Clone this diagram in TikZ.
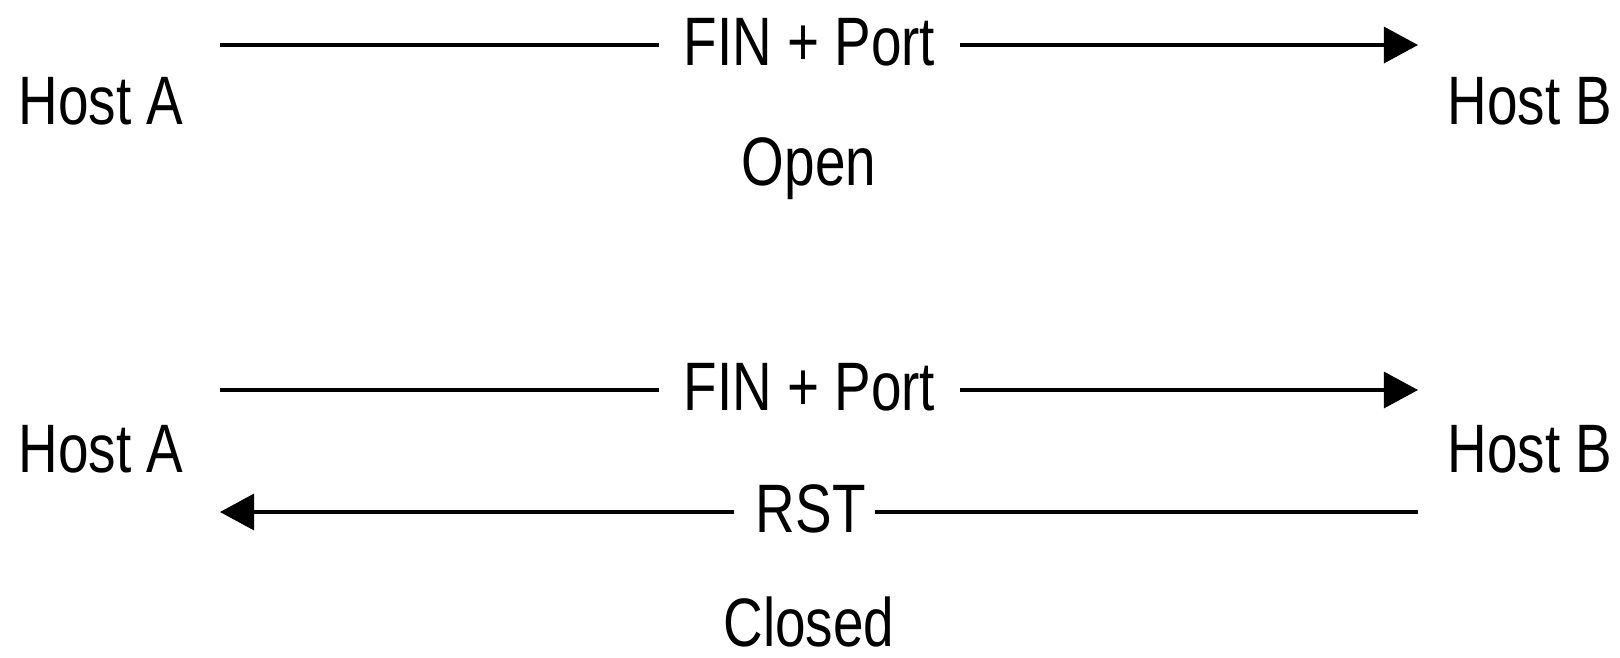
\documentclass[tikz,border=0pt]{standalone}
\usepackage{fontspec}
\setmainfont{Liberation Sans}[FakeStretch=0.80]
\usetikzlibrary{positioning}
\usetikzlibrary{arrows.meta}

\begin{document}
\begin{tikzpicture}[
    x=0.01cm, y=-0.01cm,
    font=\fontsize{19.5}{22}\selectfont,
    host/.style={inner sep=0pt},
    msg/.style={line width=0.9pt, -{Triangle[length=0.34cm, width=0.36cm]}},
    lbl/.style={fill=white, inner sep=0pt, inner xsep=7pt, yshift=0.03cm}
  ]
  \useasboundingbox (0,0) rectangle (1620,657);

  % open port
  \node[host, anchor=base west] (hostA1) at (18,124) {Host A};
  \node[host, anchor=base east] (hostB1) at (1613,124) {Host B};
  \coordinate (a1out) at (220,45);
  \coordinate (b1in) at (1418,45);
  \draw[msg] (a1out) -- node[lbl, pos=0.492] (fin1) {FIN + Port} (b1in);
  \node[host, anchor=base] (open) at (809,185) {Open};

  % closed port
  \node[host, anchor=base west] (hostA2) at (18,472) {Host A};
  \node[host, anchor=base east] (hostB2) at (1613,472) {Host B};
  \coordinate (a2out) at (220,390);
  \coordinate (b2in) at (1418,390);
  \coordinate (b2out) at (1418,512);
  \coordinate (a2in) at (220,512);
  \draw[msg] (a2out) -- node[lbl, pos=0.492] (fin2) {FIN + Port} (b2in);
  \draw[msg] (b2out) -- node[lbl, pos=0.512, inner xsep=2.8pt] (rst) {\hspace{3.5pt}RST} (a2in);
  \node[host, anchor=base] (closed) at (809,646) {Closed};

\end{tikzpicture}
\end{document}
